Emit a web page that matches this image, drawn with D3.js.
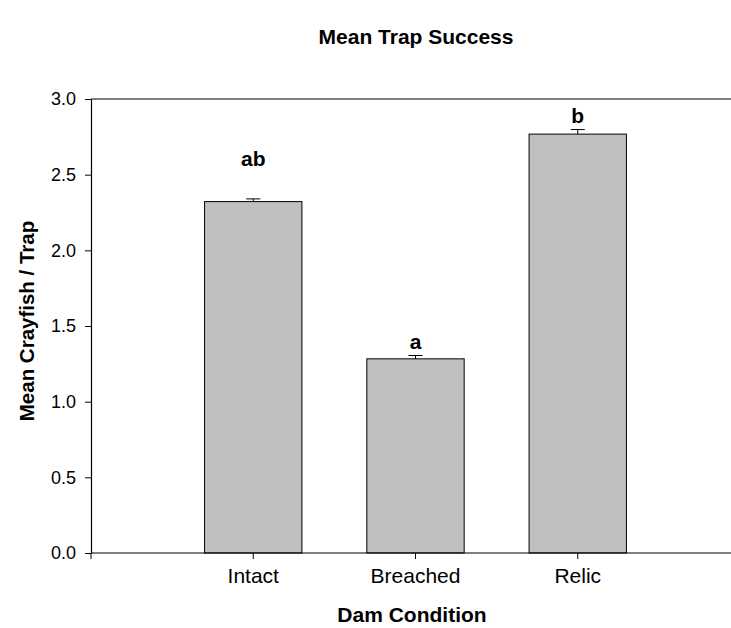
<!DOCTYPE html>
<html><head><meta charset="utf-8">
<script src="https://cdn.jsdelivr.net/npm/d3@7"></script>
<style>body{margin:0;background:#fff}svg{display:block}text{font-family:"Liberation Sans",Arial,sans-serif;fill:#000}</style>
</head><body><svg id="c" width="731" height="628"></svg>
<script>
const categories = ["Intact", "Breached", "Relic"];
const means = [2.322, 1.283, 2.768];
const errors = [0.018, 0.022, 0.030];
const letters = ["ab", "a", "b"];
const letterPos = [2.56, 1.35, 2.84];
const yTicks = [0.0, 0.5, 1.0, 1.5, 2.0, 2.5, 3.0];
const title = "Mean Trap Success";
const xTitle = "Dam Condition";
const yTitle = "Mean Crayfish / Trap";

const svg = d3.select("#c");
const L = 91, R = 740, T = 99, B = 553;
const y = d3.scaleLinear().domain([0, 3]).range([B, T]);
const x = d3.scaleBand().domain(categories).range([L + (R - L) / 8, R - (R - L) / 8]).paddingInner(0.4).paddingOuter(0.2);

// top frame line
svg.append("line").attr("x1", L).attr("x2", R).attr("y1", T).attr("y2", T).attr("stroke", "#000").attr("stroke-width", 1.2);

// bars
svg.selectAll("rect.bar").data(categories).enter().append("rect")
  .attr("x", d => x(d)).attr("width", x.bandwidth())
  .attr("y", (d, i) => y(means[i])).attr("height", (d, i) => B - y(means[i]))
  .attr("fill", "#c0c0c0").attr("stroke", "#000").attr("stroke-width", 1);

// error bars (upper)
const cx = d => x(d) + x.bandwidth() / 2;
svg.selectAll("line.err").data(categories).enter().append("line")
  .attr("x1", cx).attr("x2", cx)
  .attr("y1", (d, i) => y(means[i])).attr("y2", (d, i) => y(means[i] + errors[i]))
  .attr("stroke", "#000").attr("stroke-width", 1);
svg.selectAll("line.cap").data(categories).enter().append("line")
  .attr("x1", d => cx(d) - 7).attr("x2", d => cx(d) + 7)
  .attr("y1", (d, i) => y(means[i] + errors[i])).attr("y2", (d, i) => y(means[i] + errors[i]))
  .attr("stroke", "#000").attr("stroke-width", 1);

// letters
svg.selectAll("text.let").data(categories).enter().append("text")
  .attr("x", cx).attr("y", (d, i) => y(letterPos[i]))
  .attr("text-anchor", "middle").attr("font-weight", "bold").attr("font-size", 21)
  .text((d, i) => letters[i]);

// y axis
const ya = svg.append("g").attr("transform", `translate(${L},0)`)
  .call(d3.axisLeft(y).tickValues(yTicks).tickFormat(d3.format(".1f")).tickSize(6).tickPadding(9).tickSizeOuter(0));
ya.select(".domain").attr("stroke", "#000").attr("stroke-width", 1.2);
ya.selectAll(".tick line").attr("stroke", "#000").attr("stroke-width", 1);
ya.selectAll(".tick text").attr("font-size", 18).attr("font-family", "Liberation Sans, Arial, sans-serif").attr("fill", "#000");

// x axis
const xa = svg.append("g").attr("transform", `translate(0,${B})`)
  .call(d3.axisBottom(x).tickSize(6).tickPadding(9).tickSizeOuter(0));
xa.select(".domain").attr("d", `M${L},0H${R}`).attr("stroke", "#000").attr("stroke-width", 1.2);
xa.selectAll(".tick line").attr("stroke", "#000").attr("stroke-width", 1);
xa.selectAll(".tick text").attr("font-size", 21).attr("font-family", "Liberation Sans, Arial, sans-serif").attr("fill", "#000");
xa.append("line").attr("x1", L).attr("x2", L).attr("y1", 0).attr("y2", 6).attr("stroke", "#000");

// titles
svg.append("text").attr("x", 416).attr("y", 44).attr("text-anchor", "middle")
  .attr("font-weight", "bold").attr("font-size", 21).text(title);
svg.append("text").attr("x", 412).attr("y", 622).attr("text-anchor", "middle")
  .attr("font-weight", "bold").attr("font-size", 21).text(xTitle);
svg.append("text").attr("transform", `translate(34,321) rotate(-90)`).attr("text-anchor", "middle")
  .attr("font-weight", "bold").attr("font-size", 20.5).text(yTitle);
</script></body></html>
